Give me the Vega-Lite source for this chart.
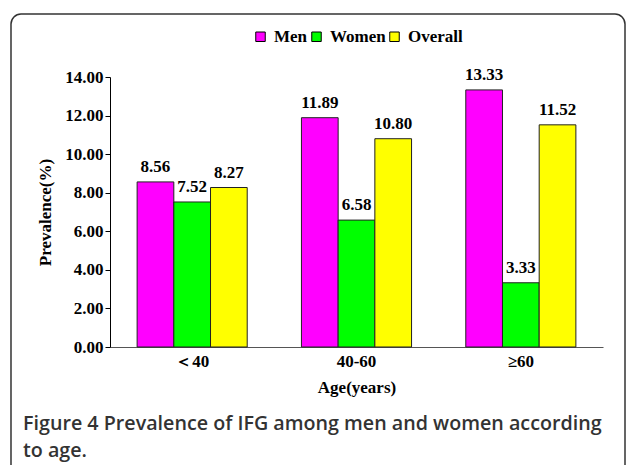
{
  "$schema": "https://vega.github.io/schema/vega-lite/v6.json",
  "autosize": {"type": "fit", "contains": "padding"},
  "width": 628,
  "height": 465,
  "padding": {"left": 11, "top": 14, "right": 3, "bottom": -10},
  "background": "white",
  "title": {
    "text": ["Figure 4 Prevalence of IFG among men and women according", "to age."],
    "orient": "bottom",
    "anchor": "start",
    "frame": "group",
    "offset": -61,
    "dx": 12,
    "font": "Open Sans",
    "fontSize": 19.7,
    "fontWeight": 600,
    "color": "#333333",
    "lineHeight": 27
  },
  "data": {
    "values": [
      {"age": "＜40", "group": "Men", "value": 8.56},
      {"age": "＜40", "group": "Women", "value": 7.52},
      {"age": "＜40", "group": "Overall", "value": 8.27},
      {"age": "40-60", "group": "Men", "value": 11.89},
      {"age": "40-60", "group": "Women", "value": 6.58},
      {"age": "40-60", "group": "Overall", "value": 10.80},
      {"age": "≥60", "group": "Men", "value": 13.33},
      {"age": "≥60", "group": "Women", "value": 3.33},
      {"age": "≥60", "group": "Overall", "value": 11.52}
    ]
  },
  "encoding": {
    "x": {
      "field": "age",
      "type": "nominal",
      "sort": ["＜40", "40-60", "≥60"],
      "scale": {"range": [99, 592], "paddingInner": 0.33, "paddingOuter": 0.165},
      "axis": {
        "orient": "bottom",
        "offset": -128,
        "ticks": false,
        "labelAngle": 0,
        "domainColor": "#555555",
        "domainWidth": 1.2,
        "labelFont": "Liberation Serif",
        "labelFontSize": 17,
        "labelFontWeight": "bold",
        "labelColor": "black",
        "labelPadding": 6,
        "title": "Age(years)",
        "titleFont": "Liberation Serif",
        "titleFontSize": 17,
        "titleFontWeight": "bold",
        "titleColor": "black",
        "titlePadding": 10
      }
    },
    "xOffset": {"field": "group", "type": "nominal", "sort": ["Men", "Women", "Overall"], "scale": {"paddingInner": 0, "paddingOuter": 0}},
    "y": {
      "field": "value",
      "type": "quantitative",
      "scale": {"domain": [0, 14], "range": [333, 63], "nice": false, "zero": true},
      "axis": {
        "orient": "left",
        "offset": -99,
        "values": [0, 2, 4, 6, 8, 10, 12, 14],
        "format": ".2f",
        "grid": false,
        "domainColor": "black",
        "tickColor": "black",
        "tickSize": 5,
        "labelFont": "Liberation Serif",
        "labelFontSize": 17,
        "labelFontWeight": "bold",
        "labelColor": "black",
        "labelPadding": 2,
        "title": "Prevalence(%)",
        "titleFont": "Liberation Serif",
        "titleFontSize": 17,
        "titleFontWeight": "bold",
        "titleColor": "black",
        "titlePadding": 10
      }
    }
  },
  "layer": [
    {
      "mark": {"type": "bar", "stroke": "#222222", "strokeWidth": 1},
      "encoding": {
        "color": {
          "field": "group",
          "type": "nominal",
          "sort": ["Men", "Women", "Overall"],
          "scale": {"domain": ["Men", "Women", "Overall"], "range": ["#FF00FF", "#00FF00", "#FFFF00"]},
          "legend": {
            "orient": "none",
            "legendX": 241,
            "legendY": 14,
            "direction": "horizontal",
            "title": null,
            "symbolType": "square",
            "symbolSize": 90,
            "symbolStrokeColor": "black",
            "symbolStrokeWidth": 1,
            "labelFont": "Liberation Serif",
            "labelFontSize": 17,
            "labelFontWeight": "bold",
            "labelColor": "black",
            "labelOffset": 5,
            "columnPadding": -2,
            "padding": 0
          }
        }
      }
    },
    {
      "mark": {"type": "text", "baseline": "alphabetic", "dy": -10, "font": "Liberation Serif", "fontWeight": "bold", "fontSize": 17, "color": "black"},
      "encoding": {"text": {"field": "value", "type": "quantitative", "format": ".2f"}}
    }
  ],
  "config": {
    "view": {"stroke": "#333333", "strokeWidth": 1.5, "cornerRadius": 10, "fill": "white"}
  }
}
